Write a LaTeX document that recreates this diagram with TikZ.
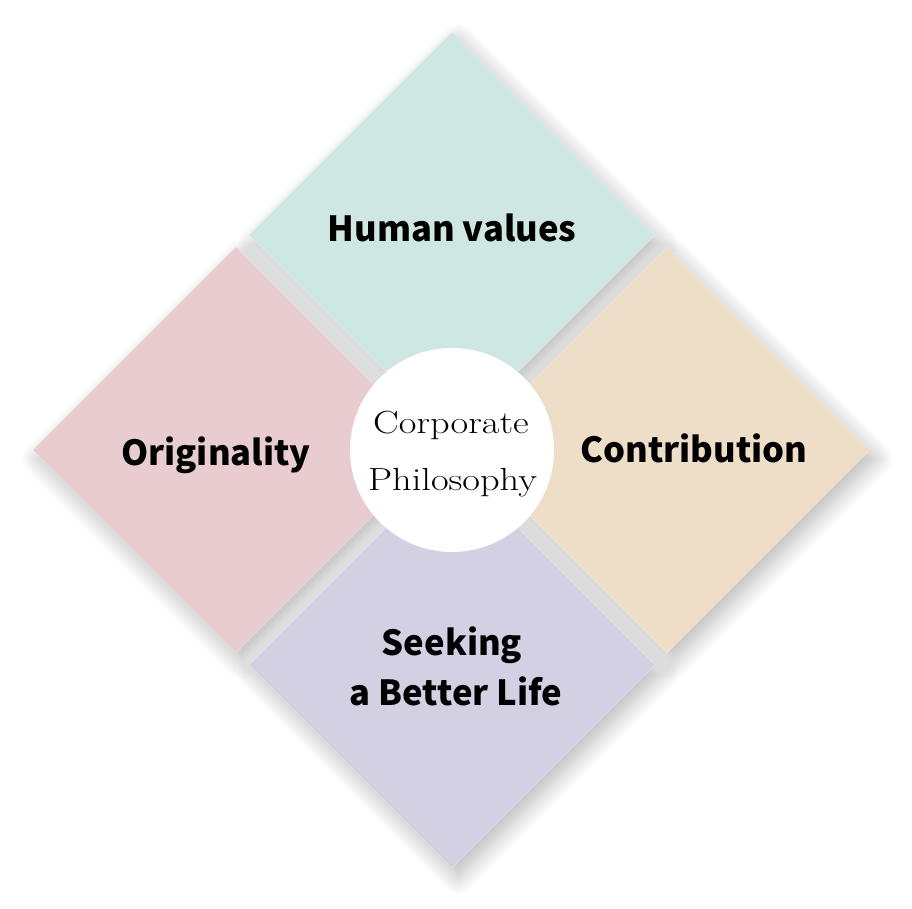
\documentclass[tikz,border=0pt]{standalone}
\usepackage{fontspec}
\usetikzlibrary{shapes.geometric,shadows.blur}
\newfontfamily\labelfont{Noto Sans CJK JP}
\newfontfamily\circfont{Latin Modern Roman}[FakeStretch=1.2]
\definecolor{cteal}{RGB}{207,231,227}
\definecolor{cpink}{RGB}{233,204,207}
\definecolor{cbeige}{RGB}{238,222,200}
\definecolor{clav}{RGB}{211,208,227}
\tikzset{
  dia/.style={diamond, minimum width=406pt, minimum height=406pt, inner sep=0pt, draw=none},
  diashadow/.style={dia, fill=white, blur shadow={shadow xshift=6pt, shadow yshift=-9pt, shadow blur radius=18pt, shadow opacity=28, shadow blur steps=25}},
  lbl/.style={anchor=base, font=\labelfont\bfseries\fontsize{34.6}{40}\selectfont, inner sep=0pt},
  ctr/.style={anchor=base, font=\circfont\fontsize{32}{36}\selectfont, inner sep=0pt},
}
\begin{document}
\begin{tikzpicture}[x=1pt,y=-1pt]
\useasboundingbox (0,0) rectangle (912,909);
% shadows pass
\node[diashadow] at (452,235) {};
\node[diashadow] at (236,450) {};
\node[diashadow] at (667,450) {};
\node[diashadow] at (452,665) {};
% fills
\node[dia, fill=cteal] (top) at (452,235) {};
\node[dia, fill=cpink] (left) at (236,450) {};
\node[dia, fill=cbeige] (right) at (667,450) {};
\node[dia, fill=clav] (bottom) at (452,665) {};
\node[circle, fill=white, minimum size=204pt, inner sep=0pt] (c) at (452,450) {};
% labels
\node[lbl] (t1) at (452,242) {Human values};
\node[lbl] (t2) at (216,465) {Originality};
\node[lbl] (t3) at (694,462) {Contribution};
\node[lbl] (t4) at (452,655) {Seeking};
\node[lbl] (t5) at (456,705) {a Better Life};
\node[ctr] (c1) at (451,433) {Corporate};
\node[ctr] (c2) at (452.5,490) {Philosophy};
\end{tikzpicture}
\end{document}
